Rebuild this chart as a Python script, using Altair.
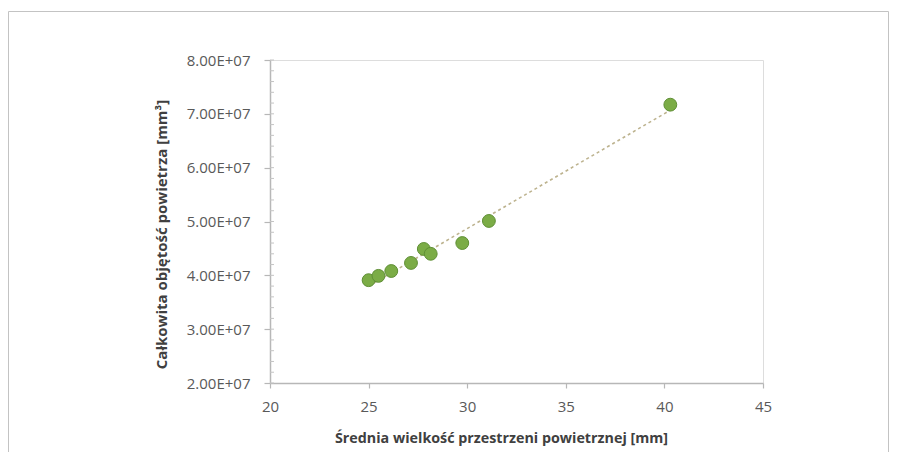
import altair as alt
import pandas as pd

# Data
srednia_mm = [25.0, 25.5, 26.15, 27.15, 27.8, 28.15, 29.75, 31.1, 40.3]
objetosc_mm3 = [3.91e7, 3.99e7, 4.08e7, 4.23e7, 4.49e7, 4.40e7, 4.60e7, 5.01e7, 7.17e7]
y_ticks = [2e7, 3e7, 4e7, 5e7, 6e7, 7e7, 8e7]
y_minor_ticks = [2e7 + i * 2e6 for i in range(31)]
x_ticks = [20, 25, 30, 35, 40, 45]

df = pd.DataFrame({"x": srednia_mm, "y": objetosc_mm3})
minor_df = pd.DataFrame({"y": y_minor_ticks})

FONT = "Open Sans"
W, H = 493, 323
PAD_L, PAD_T, PAD_R, PAD_B = 262, 52, 126, 69

xscale = alt.Scale(domain=[20, 45], nice=False, zero=False)
yscale = alt.Scale(domain=[2e7, 8e7], nice=False, zero=False)

base = alt.Chart(df)

points = base.mark_circle(
    size=165, color="#7bac46", opacity=1, stroke="#5f8f35", strokeWidth=1
).encode(
    x=alt.X("x:Q", scale=xscale, axis=alt.Axis(
        values=x_ticks, title="Średnia wielkość przestrzeni powietrznej [mm]",
        grid=False, domainColor="#b7b7b7", domainWidth=1.5, tickColor="#b7b7b7",
        tickSize=5, tickWidth=1.2, labelFontSize=15, labelColor="#595959",
        labelFont=FONT, labelPadding=11, labelFlush=False,
        titleFont=FONT, titleFontSize=14.3,
        titleColor="#404040", titleFontWeight="bold",
        titleX=231, titleY=55, titleAlign="center", titleBaseline="middle")),
    y=alt.Y("y:Q", scale=yscale, axis=alt.Axis(
        values=y_ticks, orient="left",
        labelExpr="format(datum.value/1e7, '.2f') + 'E+07'",
        title="Całkowita objętość powietrza [mm³]",
        grid=False, domainColor="#b7b7b7", domainWidth=1.5, tickColor="#b7b7b7",
        tickSize=6, tickWidth=1.2, labelFontSize=15, labelColor="#595959",
        labelFont=FONT, labelPadding=14, labelFlush=False,
        titleFont=FONT, titleFontSize=15,
        titleColor="#404040", titleFontWeight="bold",
        titleX=-109, titleY=174, titleAngle=270, titleAlign="center",
        titleBaseline="middle")),
)

minor = alt.Chart(minor_df).mark_rule(color="#c4c4c4", strokeWidth=1).encode(
    y=alt.Y("y:Q", scale=yscale),
    x=alt.value(0), x2=alt.value(4),
)

trend = base.transform_regression("x", "y").mark_line(
    color="#bdb38f", strokeDash=[3, 3], strokeWidth=1.6
).encode(
    x=alt.X("x:Q", scale=xscale),
    y=alt.Y("y:Q", scale=yscale),
)

frame = alt.Chart(pd.DataFrame({"f": [0]})).mark_rect(
    fill=None, stroke="#c3c3c3", strokeWidth=1
).encode(
    x=alt.value(-PAD_L + 0.5), x2=alt.value(W + PAD_R - 0.5),
    y=alt.value(-PAD_T + 3.5), y2=alt.value(H + PAD_B + 20),
)

chart = alt.layer(frame, minor, trend, points).properties(
    width=W, height=H,
    autosize=alt.AutoSizeParams(type="none"),
    padding={"left": PAD_L, "top": PAD_T, "right": PAD_R, "bottom": PAD_B},
).configure_view(stroke=None).configure(background="white")

chart.save("out.html", embed_options={"renderer": "svg", "actions": False})
